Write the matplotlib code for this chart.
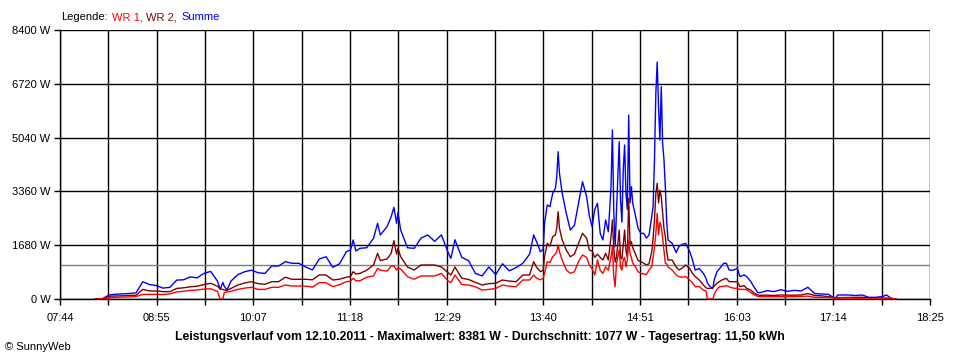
import matplotlib
matplotlib.use("Agg")
import matplotlib.pyplot as plt
import numpy as np

plt.rcParams['font.family'] = ['Liberation Sans', 'DejaVu Sans']

# Messzeitpunkte (hh:mm) und Leistung in W
zeiten = [
    "08:10", "08:15", "08:20", "08:25", "08:30", "08:35", "08:40", "08:45", "08:50", "08:55",
    "09:00", "09:05", "09:10", "09:15", "09:20", "09:25", "09:30", "09:35", "09:40", "09:42",
    "09:44", "09:45", "09:47", "09:50", "09:55", "10:00", "10:05", "10:10", "10:15", "10:20",
    "10:25", "10:30", "10:35", "10:40", "10:45", "10:50", "10:55", "11:00", "11:05", "11:10",
    "11:15", "11:18", "11:20", "11:22", "11:25", "11:30", "11:35", "11:38", "11:40", "11:45",
    "11:48", "11:50", "11:52", "11:53", "11:55", "12:00", "12:05", "12:10", "12:15", "12:20",
    "12:25", "12:30", "12:32", "12:35", "12:40", "12:45", "12:50", "12:55", "13:00", "13:05",
    "13:10", "13:15", "13:20", "13:25", "13:30", "13:33", "13:35", "13:38", "13:40", "13:41",
    "13:43", "13:45", "13:47", "13:49", "13:50", "13:51", "13:52", "13:54", "13:57", "14:00",
    "14:03", "14:06", "14:09", "14:12", "14:14", "14:16", "14:18", "14:20", "14:22", "14:24",
    "14:26", "14:28", "14:30", "14:31", "14:32", "14:33", "14:34", "14:36", "14:37", "14:38",
    "14:39", "14:40", "14:41", "14:42", "14:43", "14:44", "14:45", "14:46", "14:48", "14:50",
    "14:52", "14:54", "14:56", "14:58", "15:00", "15:01", "15:02", "15:03", "15:04", "15:05",
    "15:06", "15:07", "15:08", "15:09", "15:10", "15:11", "15:12", "15:15", "15:18", "15:20",
    "15:22", "15:25", "15:28", "15:30", "15:32", "15:35", "15:38", "15:40", "15:41", "15:43",
    "15:45", "15:46", "15:48", "15:50", "15:53", "15:55", "15:57", "16:00", "16:03", "16:05",
    "16:08", "16:10", "16:13", "16:15", "16:18", "16:20", "16:25", "16:30", "16:35", "16:40",
    "16:45", "16:50", "16:55", "17:00", "17:05", "17:10", "17:13", "17:15", "17:17", "17:20",
    "17:25", "17:30", "17:35", "17:40", "17:45", "17:50", "17:53", "17:56", "18:00",
]

summe = [
    0, 0, 125, 150, 160, 170, 190, 540, 450, 420,
    340, 365, 590, 600, 690, 660, 800, 860, 560, 300,
    520, 400, 280, 560, 760, 850, 900, 820, 800, 1030,
    1030, 1165, 1115, 1115, 1000, 906, 1250, 1320, 990, 1100,
    1478, 1530, 1843, 1500, 1583, 1600, 1895, 2364, 2000, 2259,
    2570, 2863, 2364, 2700, 2155, 1600, 1583, 1900, 2000, 1800,
    2000, 1450, 1270, 1850, 1300, 1200, 800, 720, 1000, 760,
    1100, 880, 980, 1115, 1400, 2000, 1800, 1478, 1550, 2364,
    2935, 2883, 3300, 3457, 3820, 4600, 3925, 3300, 2676, 2155,
    2300, 2988, 3663, 3195, 2600, 2259, 2800, 2988, 2050, 1843,
    2467, 2100, 3508, 5278, 2779, 1634, 2700, 4913, 3092, 2400,
    4029, 4810, 3300, 2800, 5746, 3000, 3508, 2988, 2600, 2200,
    2050, 2050, 1900, 2000, 2570, 2900, 4341, 6424, 7400, 6000,
    4966, 6630, 4862, 4341, 3500, 2400, 1843, 1738, 1450, 1634,
    1700, 1738, 1478, 1218, 906, 950, 800, 645, 500, 385,
    330, 600, 850, 950, 1115, 1115, 906, 900, 958, 700,
    750, 700, 540, 400, 200, 200, 260, 230, 290, 240,
    270, 250, 365, 170, 156, 145, 72, 10, 125, 125,
    125, 110, 125, 52, 52, 80, 125, 30, 0,
]

wr2 = [
    0, 0, 85, 95, 100, 110, 115, 300, 250, 250,
    230, 230, 330, 350, 380, 400, 450, 490, 400, 320,
    300, 280, 270, 330, 437, 500, 540, 480, 460, 540,
    540, 680, 615, 615, 615, 600, 750, 750, 593, 620,
    680, 700, 853, 780, 800, 900, 1062, 1427, 1200, 1250,
    1427, 1822, 1400, 1583, 1320, 1000, 906, 1062, 1062, 1062,
    1000, 820, 750, 1000, 650, 610, 520, 437, 480, 490,
    593, 560, 540, 750, 750, 1165, 1000, 853, 900, 1320,
    1738, 1650, 1946, 2000, 2207, 2727, 2207, 1843, 1530, 1320,
    1400, 1738, 2050, 1900, 1530, 1500, 1300, 1400, 1300, 1218,
    1427, 1218, 1946, 2467, 1600, 1150, 1300, 2155, 1300, 1250,
    1700, 2155, 1500, 1300, 3145, 1700, 1790, 1600, 1400, 1200,
    1165, 1120, 1062, 1100, 1478, 1900, 2467, 3300, 3612, 3000,
    3400, 3195, 2700, 2200, 1946, 1500, 1218, 1218, 1000, 906,
    950, 1062, 950, 800, 700, 593, 437, 350, 330, 330,
    350, 400, 490, 550, 620, 645, 540, 540, 540, 385,
    420, 330, 280, 200, 125, 115, 120, 110, 125, 120,
    120, 125, 170, 110, 100, 72, 60, 40, 45, 45,
    50, 52, 55, 30, 30, 30, 30, 10, 0,
]

wr1 = [
    0, 0, 30, 50, 60, 65, 75, 145, 145, 145,
    140, 160, 220, 240, 270, 280, 310, 320, 240, 0,
    0, 200, 220, 240, 300, 340, 365, 300, 300, 365,
    365, 437, 405, 405, 405, 370, 510, 510, 385, 450,
    540, 560, 645, 570, 570, 680, 720, 958, 900, 870,
    1030, 1030, 900, 960, 940, 700, 615, 720, 720, 720,
    800, 560, 510, 750, 450, 437, 380, 280, 300, 330,
    437, 400, 385, 593, 593, 750, 650, 600, 650, 800,
    1165, 1140, 1320, 1400, 1478, 1687, 1478, 1218, 906, 800,
    850, 1165, 1374, 1300, 1062, 950, 750, 1218, 900, 800,
    1000, 900, 1320, 1634, 700, 385, 1100, 1530, 1000, 900,
    1218, 1300, 1000, 1218, 1843, 1400, 1300, 1115, 1000, 850,
    800, 780, 760, 900, 1010, 1300, 1634, 2050, 2676, 2000,
    2400, 2259, 1900, 1500, 1115, 1100, 1000, 906, 750, 700,
    680, 700, 593, 500, 385, 390, 280, 250, 0, 0,
    0, 150, 300, 385, 400, 416, 380, 340, 330, 300,
    300, 290, 197, 150, 80, 72, 72, 72, 72, 72,
    72, 80, 90, 52, 52, 52, 40, 20, 20, 30,
    30, 20, 15, 10, 10, 10, 10, 5, 0,
]

durchschnitt = 1077
y_ticks = [0, 1680, 3360, 5040, 6720, 8400]
x_labels = ["07:44", "08:55", "10:07", "11:18", "12:29", "13:40", "14:51", "16:03", "17:14", "18:25"]
x_start, x_end = 7 * 60 + 44, 18 * 60 + 25

minuten = np.array([int(z[:2]) * 60 + int(z[3:]) for z in zeiten])

fig = plt.figure(figsize=(9.6, 3.6), dpi=100)
ax = fig.add_axes([60 / 960, 1 - 299 / 360, 870 / 960, 269 / 360])

ax.set_xlim(x_start, x_end)
ax.set_ylim(0, 8400)

# 18 Rasterfelder, jede zweite Linie beschriftet
ticks = np.linspace(x_start, x_end, 19)
ax.set_xticks(ticks)
ax.set_xticklabels([x_labels[i // 2] if i % 2 == 0 else "" for i in range(19)])
ax.set_yticks(y_ticks)
ax.set_yticklabels(["%d W" % v for v in y_ticks])

ax.grid(True, color="black", linewidth=1)
ax.axhline(durchschnitt, color="#808080", linewidth=1, zorder=2)

ax.plot(minuten, summe, color="#0000FF", linewidth=1, zorder=3)
ax.plot(minuten, wr2, color="#800000", linewidth=1, zorder=4)
ax.plot(minuten, wr1, color="#FF0000", linewidth=1, zorder=5)

for s in ["top", "right"]:
    ax.spines[s].set_visible(False)
for s in ["left", "bottom"]:
    ax.spines[s].set_linewidth(1)
ax.tick_params(direction="out", length=4, width=1, labelsize=8, pad=3)
ax.tick_params(axis="x", pad=6)

# Legende als farbiger Text, Stück für Stück aneinandergehängt
fig.canvas.draw()
renderer = fig.canvas.get_renderer()
lx = 61
for txt, col in [("Legende:", "black"), ("WR 1,", "#FF0000"), ("WR 2,", "#800000"), ("Summe", "#0000FF")]:
    t = fig.text(lx / 960, 1 - 17 / 360, txt, fontsize=8, color=col, va="center")
    lx += t.get_window_extent(renderer).width + 4

fig.text(0.5, 1 - 337 / 360,
         "Leistungsverlauf vom 12.10.2011 - Maximalwert: 8381 W - Durchschnitt: 1077 W - Tagesertrag: 11,50 kWh",
         fontsize=8.8, fontweight="bold", ha="center", va="center")
fig.text(5 / 960, 1 - 347 / 360, "© SunnyWeb", fontsize=8, va="center")

fig.savefig("out.png", dpi=100)
